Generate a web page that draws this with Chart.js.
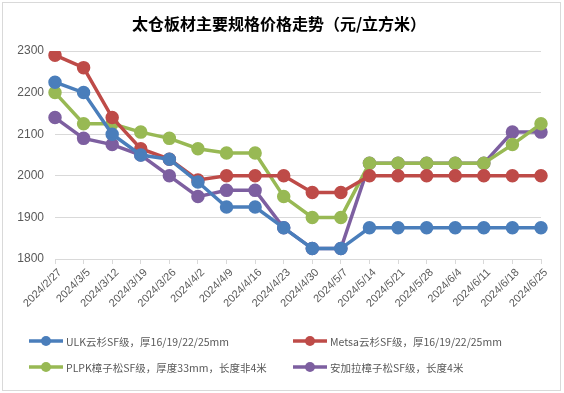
<!DOCTYPE html>
<html><head><meta charset="utf-8">
<script src="https://cdn.jsdelivr.net/npm/chart.js@4.4.1/dist/chart.umd.min.js"></script>
<style>
html,body{margin:0;padding:0;background:#fff;}
#wrap{position:relative;width:564px;height:393px;}
#frame{position:absolute;left:2px;top:2px;width:559px;height:389px;border:1px solid #d9d9d9;box-sizing:border-box;}
canvas{position:absolute;left:0;top:0;}
</style></head>
<body><div id="wrap"><div id="frame"></div><canvas id="c" width="564" height="393"></canvas></div>
<script>
const titleText = '太仓板材主要规格价格走势（元/立方米）';
const categories = ['2024/2/27','2024/3/5','2024/3/12','2024/3/19','2024/3/26','2024/4/2','2024/4/9','2024/4/16','2024/4/23','2024/4/30','2024/5/7','2024/5/14','2024/5/21','2024/5/28','2024/6/4','2024/6/11','2024/6/18','2024/6/25'];
const seriesNames = ['ULK云杉SF级，厚16/19/22/25mm','Metsa云杉SF级，厚16/19/22/25mm','PLPK樟子松SF级，厚度33mm，长度非4米','安加拉樟子松SF级，长度4米'];
const ulk   = [2225,2200,2100,2050,2040,1985,1925,1925,1875,1825,1825,1875,1875,1875,1875,1875,1875,1875];
const metsa = [2290,2260,2140,2065,2040,1990,2000,2000,2000,1960,1960,2000,2000,2000,2000,2000,2000,2000];
const plpk  = [2200,2125,2125,2105,2090,2065,2055,2055,1950,1900,1900,2030,2030,2030,2030,2030,2075,2125];
const angara= [2140,2090,2075,2050,2000,1950,1965,1965,1875,1825,1825,2030,2030,2030,2030,2030,2105,2105];
const yTicks = [1800,1900,2000,2100,2200,2300];
const colors = ['#4a7ebb','#be4b48','#98b954','#7d5fa0'];

const seriesData = [ulk, metsa, plpk, angara];
const datasets = seriesData.map((d,i)=>({
  label: seriesNames[i], data: d,
  borderColor: colors[i], backgroundColor: colors[i],
  pointBackgroundColor: colors[i], pointBorderColor: colors[i],
  borderWidth: 3.5, pointRadius: 5, pointHoverRadius: 5, tension: 0
}));

const decor = {
  id:'decor',
  afterDraw(chart){
    const ctx = chart.ctx;
    ctx.save();
    ctx.fillStyle = '#000';
    ctx.font = 'bold 16px "Noto Sans CJK SC"';
    ctx.textAlign = 'center'; ctx.textBaseline = 'middle';
    ctx.fillText(titleText, 279, 24);
    const pos = [[29,341],[293,341],[29,367],[293,367]];
    ctx.font = '10.5px "Noto Sans CJK SC"';
    ctx.textAlign = 'left';
    chart.data.datasets.forEach((ds,i)=>{
      const [x,y] = pos[i];
      ctx.strokeStyle = ds.borderColor; ctx.lineWidth = 3.5;
      ctx.beginPath(); ctx.moveTo(x,y); ctx.lineTo(x+34,y); ctx.stroke();
      ctx.fillStyle = ds.borderColor;
      ctx.beginPath(); ctx.arc(x+17,y,5,0,Math.PI*2); ctx.fill();
      ctx.fillStyle = '#595959';
      ctx.fillText(ds.label, x+37, y+1);
    });
    ctx.restore();
  }
};

new Chart(document.getElementById('c'), {
  type:'line',
  data:{labels:categories, datasets},
  options:{
    responsive:false, animation:false,
    layout:{padding:{left:0,top:51,right:23,bottom:68}},
    plugins:{legend:{display:false}, title:{display:false}, tooltip:{enabled:false}},
    scales:{
      x:{
        offset:false,
        grid:{display:true, drawOnChartArea:false, drawTicks:true, tickLength:5, color:'#d9d9d9'},
        border:{display:true,color:'#d9d9d9',width:1},
        ticks:{color:'#595959',font:{family:'"Liberation Sans", Arial',size:11},minRotation:45,maxRotation:45,autoSkip:false,padding:2,labelOffset:5},
        afterFit(s){ s.height = 66; }
      },
      y:{
        min:1800,max:2300,
        afterBuildTicks(s){ s.ticks = yTicks.map(v=>({value:v})); },
        grid:{color:'#d9d9d9',lineWidth:1,drawTicks:false},
        border:{display:false},
        ticks:{color:'#595959',font:{family:'"Liberation Sans", Arial',size:12},padding:11,callback:(v)=>String(v)},
        afterFit(s){ s.width = 55; }
      }
    }
  },
  plugins:[decor]
});
</script></body></html>
